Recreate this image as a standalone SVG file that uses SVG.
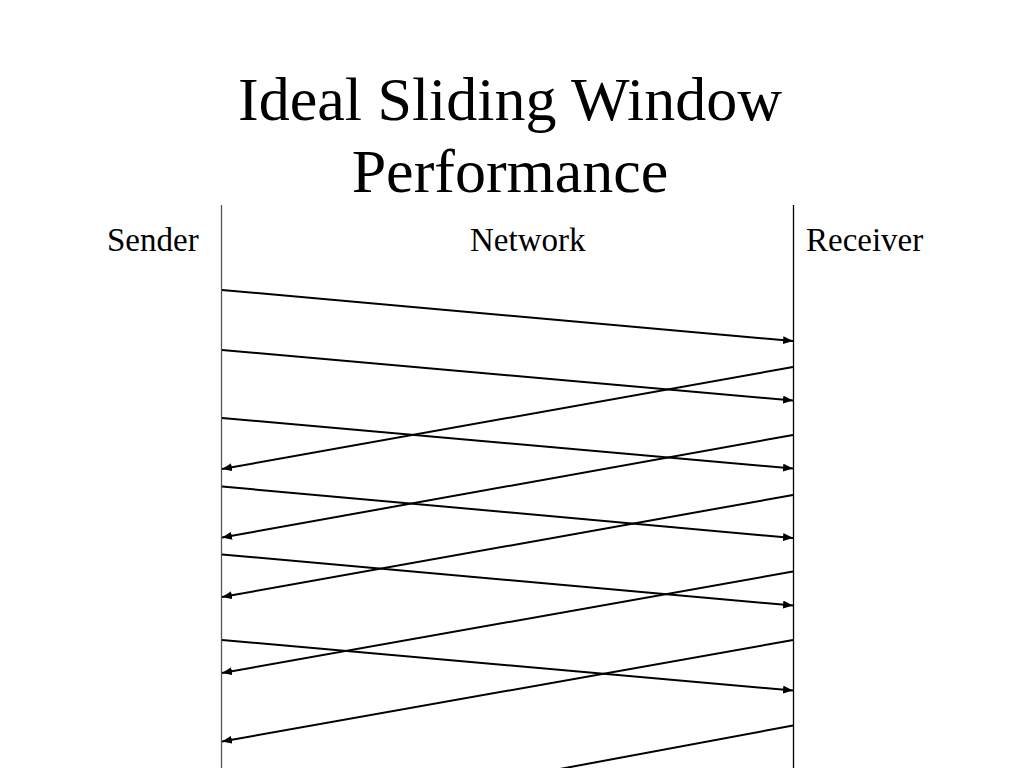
<svg xmlns="http://www.w3.org/2000/svg" width="1024" height="768" viewBox="0 0 1024 768">
<style>
.t{font-family:"Liberation Serif","Times New Roman",serif;fill:#000}
.title{font-size:62px;text-anchor:middle}
.lbl{font-size:33px}
.life{stroke:#000;stroke-width:1.3;fill:none}
.msg{stroke:#000;stroke-width:2;fill:none;marker-end:url(#ah)}
</style>
<defs>
<marker id="ah" viewBox="0 0 10 8" refX="10" refY="4" markerWidth="5" markerHeight="4" orient="auto" markerUnits="strokeWidth">
<path d="M0,0 L10,4 L0,8 Z" fill="#000"/>
</marker>
</defs>
<rect width="1024" height="768" fill="#fff"/>
<g id="title">
<text class="t title" x="510" y="120">Ideal Sliding Window</text>
<text class="t title" x="510" y="192">Performance</text>
</g>
<g id="sender">
<text class="t lbl" x="107" y="251">Sender</text>
<line class="life" x1="221.5" y1="205" x2="221.5" y2="768" style="stroke:#555"/>
</g>
<g id="network">
<text class="t lbl" x="470" y="251">Network</text>
</g>
<g id="receiver">
<text class="t lbl" x="806" y="251">Receiver</text>
<line class="life" x1="793.5" y1="205" x2="793.5" y2="768"/>
</g>
<g id="connectors">
<line class="msg" x1="222" y1="290" x2="793" y2="341"/>
<line class="msg" x1="222" y1="350" x2="793" y2="400.5"/>
<line class="msg" x1="222" y1="418" x2="793" y2="468.5"/>
<line class="msg" x1="222" y1="486.5" x2="793" y2="538"/>
<line class="msg" x1="222" y1="554.5" x2="793" y2="605.5"/>
<line class="msg" x1="222" y1="640" x2="793" y2="690.5"/>
<line class="msg" x1="793" y1="367" x2="222" y2="469"/>
<line class="msg" x1="793" y1="435" x2="222" y2="537.5"/>
<line class="msg" x1="793" y1="495" x2="222" y2="597"/>
<line class="msg" x1="793" y1="571.5" x2="222" y2="673"/>
<line class="msg" x1="793" y1="640" x2="222" y2="741.5"/>
<line class="msg" x1="793" y1="725.5" x2="222" y2="832"/>
</g>
</svg>
